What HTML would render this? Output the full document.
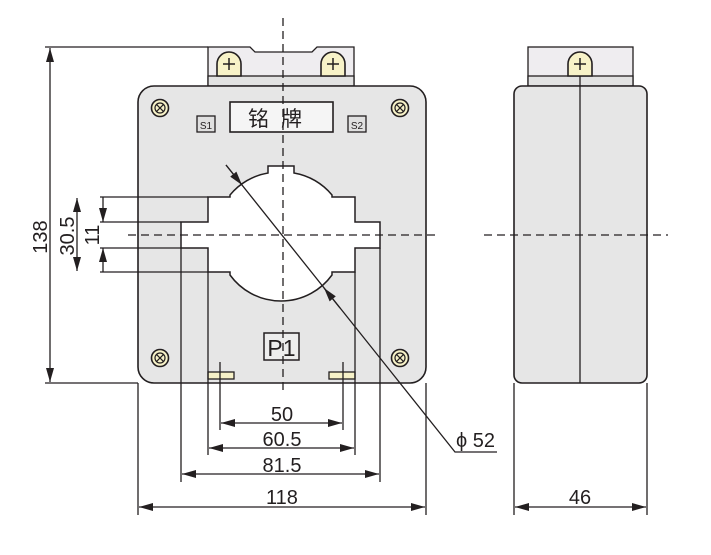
<!DOCTYPE html>
<html><head><meta charset="utf-8"><style>html,body{margin:0;padding:0;background:#fff}svg{display:block}text{font-family:"Liberation Sans","Noto Sans CJK SC",sans-serif;fill:#231f20}</style></head>
<body>
<svg width="711" height="555" viewBox="0 0 711 555" xmlns="http://www.w3.org/2000/svg">
<defs>
<marker id="a" viewBox="0 0 14 8" refX="14" refY="4" markerWidth="14" markerHeight="8" markerUnits="userSpaceOnUse" orient="auto-start-reverse"><path d="M0,0L14,4L0,8Z" fill="#231f20"/></marker>
<g id="scr"><circle r="8.5" fill="#f7f2c8" stroke="#231f20" stroke-width="1.6"/><circle r="5" fill="none" stroke="#231f20" stroke-width="1.2"/><path d="M-3.4,-3.4L3.4,3.4M-3.4,3.4L3.4,-3.4" stroke="#231f20" stroke-width="1.2"/></g>
<g id="dome"><path d="M-12,22V10A12,12 0 0 1 12,10V22Z" fill="#f7f2c8" stroke="#231f20" stroke-width="1.6"/><path d="M-6,10H6M0,4V16" stroke="#231f20" stroke-width="1.5"/></g>
</defs>
<g stroke="#231f20" stroke-width="1.3" fill="none">
<path d="M208,86V47H250L255,52H312L317,47H354V86Z" fill="#efedf0"/>
<rect x="208" y="76" width="146" height="10" fill="#e2e2e2"/>
<rect x="138" y="86" width="288" height="297" rx="16" fill="#e6e6e6" stroke-width="1.6"/>
<path d="M268,173V166H294V173A63,63 0 0 1 332,195V197H355V222H380V248H355V272H332V275A63,63 0 0 1 230,275V272H208V248H181V222H208V197H230V195A63,63 0 0 1 268,173Z" fill="#fff" stroke-width="1.5"/>
<rect x="230" y="102" width="103" height="30" fill="#f5f5f5" stroke-width="1.6"/>
<rect x="197" y="116" width="18" height="16" fill="#e0e0e0"/>
<rect x="348" y="116" width="18" height="16" fill="#e0e0e0"/>
<rect x="264" y="333" width="35" height="27" fill="#ededed" stroke-width="1.5"/>
<rect x="208" y="372" width="26" height="7" fill="#f7f2c8"/>
<rect x="329" y="372" width="26" height="7" fill="#f7f2c8"/>
<rect x="528" y="47" width="105" height="39" fill="#efedf0"/>
<rect x="528" y="76" width="105" height="10" fill="#e2e2e2"/>
<rect x="514" y="86" width="133" height="297" rx="8" fill="#e6e6e6" stroke-width="1.6"/>
<line x1="580" y1="76" x2="580" y2="383"/>
<g stroke-dasharray="8,5"><line x1="283" y1="18" x2="283" y2="395"/><line x1="128" y1="235" x2="436" y2="235"/><line x1="484" y1="235" x2="668" y2="235"/></g>
<path d="M45,47H208M45,383H138M100,197H208M100,222H181M100,248H181M100,272H208"/>
<path d="M181,248V482M380,248V482M208,272V455M355,272V455M220,362V430M343,362V430M138,383V515M426,383V515M514,383V515M647,383V515"/>
<line x1="50" y1="48" x2="50" y2="382" marker-start="url(#a)" marker-end="url(#a)"/>
<line x1="77" y1="198" x2="77" y2="271" marker-start="url(#a)" marker-end="url(#a)"/>
<line x1="103" y1="197" x2="103" y2="222" marker-end="url(#a)"/>
<line x1="103" y1="272" x2="103" y2="248" marker-end="url(#a)"/>
<line x1="221" y1="423" x2="342" y2="423" marker-start="url(#a)" marker-end="url(#a)"/>
<line x1="209" y1="448" x2="354" y2="448" marker-start="url(#a)" marker-end="url(#a)"/>
<line x1="182" y1="474" x2="379" y2="474" marker-start="url(#a)" marker-end="url(#a)"/>
<line x1="139" y1="507" x2="425" y2="507" marker-start="url(#a)" marker-end="url(#a)"/>
<line x1="515" y1="507" x2="646" y2="507" marker-start="url(#a)" marker-end="url(#a)"/>
<path d="M226,165L455,452H497"/>
<line x1="340" y1="308" x2="324" y2="288" marker-end="url(#a)"/>
<line x1="226" y1="165" x2="242" y2="185" marker-end="url(#a)"/>
</g>
<use href="#scr" x="160" y="108"/><use href="#scr" x="400" y="108"/><use href="#scr" x="160" y="358"/><use href="#scr" x="400" y="358"/>
<use href="#dome" x="229" y="54"/><use href="#dome" x="333" y="54"/><use href="#dome" x="580" y="54"/>
<text x="281" y="126" font-size="21" text-anchor="middle" letter-spacing="12">铭牌</text>
<text x="206" y="129" font-size="10" text-anchor="middle">S1</text>
<text x="357" y="129" font-size="10" text-anchor="middle">S2</text>
<text x="281.5" y="356" font-size="23" text-anchor="middle">P1</text>
<text x="282" y="421" font-size="20" text-anchor="middle">50</text>
<text x="282" y="446" font-size="20" text-anchor="middle">60.5</text>
<text x="282" y="472" font-size="20" text-anchor="middle">81.5</text>
<text x="282" y="504" font-size="20" text-anchor="middle">118</text>
<text x="580" y="504" font-size="20" text-anchor="middle">46</text>
<text x="456" y="447" font-size="20">ϕ 52</text>
<text transform="translate(47,237) rotate(-90)" font-size="20" text-anchor="middle">138</text>
<text transform="translate(74,236) rotate(-90)" font-size="20" text-anchor="middle">30.5</text>
<text transform="translate(99,235) rotate(-90)" font-size="20" text-anchor="middle">11</text>
</svg>
</body></html>
